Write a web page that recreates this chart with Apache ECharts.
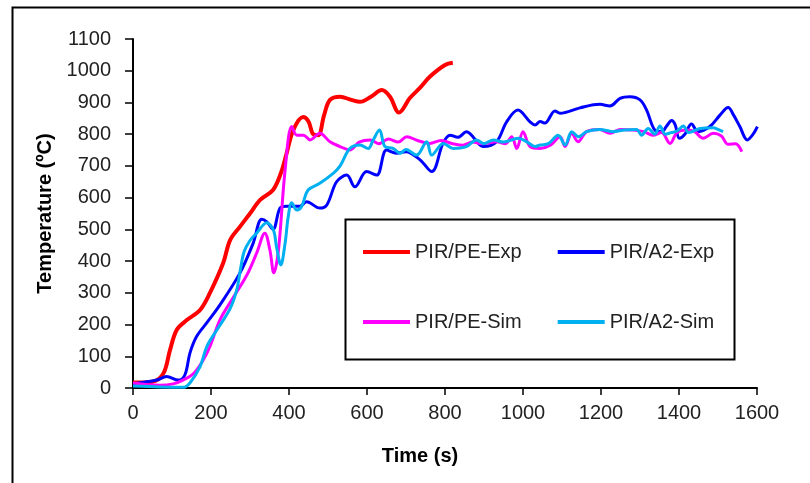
<!DOCTYPE html>
<html>
<head>
<meta charset="utf-8">
<script src="https://cdn.jsdelivr.net/npm/echarts@6/dist/echarts.min.js"></script>
<style>
html,body{margin:0;padding:0;background:#fff;}
#chart{width:810px;height:483px;}
</style>
</head>
<body>
<div id="chart"></div>
<script>
// ---- Data ----
const seriesNames = ['PIR/PE-Exp', 'PIR/A2-Exp', 'PIR/PE-Sim', 'PIR/A2-Sim'];
const xTicks = [0, 200, 400, 600, 800, 1000, 1200, 1400, 1600];
const yTicks = [0, 100, 200, 300, 400, 500, 600, 700, 800, 900, 1000, 1100];

const peExpTime = [0, 50, 78, 95, 112, 138, 172, 197, 231, 249, 274, 300, 326, 359, 380, 394, 411, 436, 450, 462, 475, 490, 505, 531, 560, 582, 610, 638, 659, 682, 710, 735, 761, 800, 820];
const peExpTemp = [17, 20, 46, 120, 183, 214, 246, 299, 393, 466, 508, 550, 593, 624, 680, 740, 813, 854, 840, 800, 797, 860, 908, 918, 908, 902, 918, 939, 918, 868, 914, 945, 981, 1018, 1025];

const a2ExpTime = [0, 61, 86, 116, 133, 146, 163, 189, 223, 274, 308, 330, 343, 359, 377, 394, 428, 445, 479, 497, 522, 548, 569, 599, 625, 650, 676, 700, 736, 766, 795, 813, 833, 855, 898, 932, 958, 987, 1018, 1031, 1044, 1056, 1082, 1095, 1146, 1197, 1223, 1249, 1274, 1300, 1317, 1338, 1356, 1368, 1381, 1390, 1401, 1415, 1432, 1449, 1479, 1505, 1526, 1540, 1556, 1575, 1590, 1601];
const a2ExpTemp = [13, 25, 36, 25, 41, 110, 162, 205, 262, 362, 456, 532, 524, 500, 567, 573, 573, 587, 567, 577, 650, 671, 634, 682, 671, 750, 740, 745, 719, 682, 772, 797, 790, 808, 761, 776, 839, 876, 839, 829, 840, 835, 873, 866, 883, 894, 889, 913, 918, 908, 876, 813, 808, 825, 843, 830, 787, 800, 832, 808, 824, 860, 884, 860, 824, 782, 800, 824];

const peSimTime = [0, 69, 103, 128, 154, 180, 197, 223, 257, 292, 317, 338, 351, 361, 373, 390, 407, 420, 437, 454, 479, 505, 531, 556, 580, 608, 630, 655, 680, 702, 730, 761, 790, 820, 846, 870, 895, 932, 955, 971, 984, 1000, 1018, 1044, 1070, 1095, 1108, 1125, 1141, 1163, 1197, 1223, 1250, 1282, 1310, 1333, 1355, 1377, 1395, 1420, 1440, 1462, 1488, 1508, 1526, 1545, 1561];
const peSimTemp = [16, 9, 13, 25, 44, 88, 130, 215, 285, 356, 425, 488, 435, 363, 435, 687, 824, 797, 797, 782, 803, 776, 761, 750, 775, 782, 770, 785, 775, 792, 780, 771, 780, 770, 765, 775, 770, 776, 770, 792, 755, 808, 761, 755, 765, 792, 761, 803, 776, 808, 815, 803, 815, 813, 808, 797, 805, 771, 805, 813, 808, 787, 803, 795, 768, 770, 745];

const a2SimTime = [0, 69, 128, 146, 172, 189, 215, 249, 266, 275, 285, 300, 317, 343, 360, 368, 379, 390, 398, 407, 420, 432, 449, 479, 514, 531, 556, 582, 603, 616, 632, 646, 667, 685, 700, 727, 753, 766, 796, 821, 855, 881, 900, 924, 950, 988, 1010, 1031, 1044, 1065, 1090, 1108, 1125, 1142, 1163, 1197, 1230, 1260, 1291, 1304, 1321, 1338, 1351, 1365, 1380, 1395, 1411, 1425, 1454, 1488, 1500, 1513];
const a2SimTemp = [6, 3, 2, 16, 67, 130, 183, 250, 309, 370, 430, 465, 488, 521, 498, 445, 388, 456, 540, 584, 561, 571, 624, 645, 677, 700, 755, 766, 755, 782, 813, 761, 755, 740, 752, 734, 776, 734, 771, 755, 761, 782, 770, 782, 775, 787, 776, 761, 766, 770, 797, 766, 808, 792, 808, 815, 808, 813, 815, 797, 818, 800, 826, 800, 805, 810, 826, 805, 818, 820, 815, 808];

const colors = ['#FF0000', '#0000FF', '#FF00FF', '#00B0F0'];
const widths = [4, 3, 3, 3];

function zip(t, v) { return t.map((x, i) => [x, v[i]]); }
const seriesData = [
  zip(peExpTime, peExpTemp),
  zip(a2ExpTime, a2ExpTemp),
  zip(peSimTime, peSimTemp),
  zip(a2SimTime, a2SimTemp)
];

const FONT = '"Liberation Sans", Arial, sans-serif';
const chart = echarts.init(document.getElementById('chart'), null, { renderer: 'canvas' });

const legendCommon = {
  icon: 'rect',
  itemWidth: 47,
  itemHeight: 4,
  itemGap: 36,
  orient: 'horizontal',
  padding: 0,
  textStyle: { fontFamily: FONT, fontSize: 20, color: '#222' }
};

chart.setOption({
  animation: false,
  backgroundColor: '#fff',
  color: colors,
  grid: { left: 133, right: 53, top: 39, bottom: 95, containLabel: false },
  xAxis: {
    type: 'value', min: 0, max: 1600, interval: 200,
    name: 'Time (s)', nameLocation: 'middle', nameGap: 58,
    nameTextStyle: { fontFamily: FONT, fontSize: 20, fontWeight: 'bold', color: '#000', padding: [0, 50, 0, 0] },
    axisLine: { show: true, lineStyle: { color: '#000', width: 2 } },
    axisTick: { show: true, length: 7, lineStyle: { color: '#000', width: 1.5 } },
    axisLabel: { fontFamily: FONT, fontSize: 20, color: '#222', margin: 15,
      formatter: v => xTicks.includes(v) ? String(v) : '' },
    splitLine: { show: false }
  },
  yAxis: {
    type: 'value', min: 0, max: 1100, interval: 100,
    name: 'Temperature (ºC)', nameLocation: 'middle', nameGap: 78, nameRotate: 90,
    nameTextStyle: { fontFamily: FONT, fontSize: 20, fontWeight: 'bold', color: '#000' },
    axisLine: { show: true, lineStyle: { color: '#000', width: 2 } },
    axisTick: { show: true, length: 8, lineStyle: { color: '#000', width: 1.5 } },
    axisLabel: { fontFamily: FONT, fontSize: 20, color: '#222', margin: 22,
      formatter: v => yTicks.includes(v) ? String(v) : '' },
    splitLine: { show: false }
  },
  legend: [
    Object.assign({}, legendCommon, { data: [seriesNames[0], seriesNames[1]], left: 363, top: 242 }),
    Object.assign({}, legendCommon, { data: [seriesNames[2], seriesNames[3]], left: 363, top: 312 })
  ],
  graphic: [
    { type: 'rect', left: 10, top: 5, shape: { x: 0, y: 0, width: 820, height: 500 },
      style: { fill: 'none', stroke: '#000', lineWidth: 2 }, silent: true, z: 100 },
    { type: 'rect', left: 343, top: 217, shape: { x: 0, y: 0, width: 389, height: 140 },
      style: { fill: 'none', stroke: '#000', lineWidth: 2 }, silent: true, z: 100 }
  ],
  series: seriesNames.map((n, i) => ({
    name: n,
    type: 'line',
    data: seriesData[i],
    smooth: 0.35,
    showSymbol: false,
    symbol: 'none',
    lineStyle: { color: colors[i], width: widths[i] },
    itemStyle: { color: colors[i] },
    z: 2 + (i === 0 ? 0 : i)
  }))
});
</script>
</body>
</html>
